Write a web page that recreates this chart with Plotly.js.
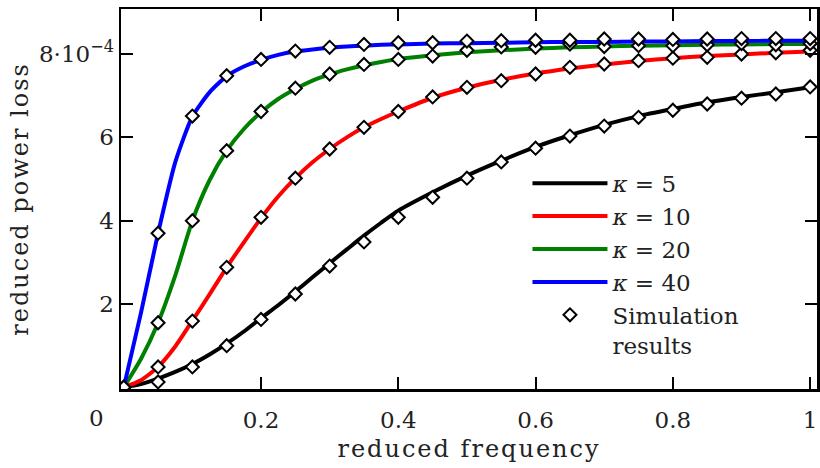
<!DOCTYPE html>
<html>
<head>
<meta charset="utf-8">
<script src="https://cdn.plot.ly/plotly-3.0.1.min.js"></script>
<style>
  html, body { margin: 0; padding: 0; background: #fff; }
  #chart { width: 820px; height: 468px; }
  .xtitle, .ytitle { letter-spacing: 2px; }
</style>
</head>
<body>
<div id="chart"></div>
<script>
// curve sample positions (reduced frequency)
const curveX = [0, 0.025, 0.05, 0.075, 0.1, 0.125, 0.15, 0.175, 0.2, 0.225, 0.25, 0.275, 0.3, 0.325, 0.35, 0.375, 0.4,
                0.45, 0.5, 0.55, 0.6, 0.65, 0.7, 0.75, 0.8, 0.85, 0.9, 0.95, 1.0];
// model curves, reduced power loss in units of 1e-4
const curveK5  = [0, 0.08, 0.21, 0.37, 0.56, 0.79, 1.05, 1.34, 1.66, 1.97, 2.30, 2.64, 2.98, 3.31, 3.64, 3.95, 4.24,
                  4.68, 5.08, 5.44, 5.77, 6.05, 6.30, 6.51, 6.68, 6.84, 6.97, 7.08, 7.20];
const curveK10 = [0, 0.17, 0.49, 0.98, 1.60, 2.23, 2.88, 3.48, 4.06, 4.58, 5.02, 5.40, 5.72, 6.00, 6.24, 6.44, 6.62,
                  6.95, 7.19, 7.38, 7.53, 7.65, 7.75, 7.83, 7.90, 7.95, 7.99, 8.03, 8.06];
const curveK20 = [0, 0.68, 1.55, 2.68, 4.00, 4.97, 5.68, 6.20, 6.60, 6.92, 7.16, 7.36, 7.51, 7.63, 7.73, 7.81, 7.88,
                  7.97, 8.04, 8.09, 8.13, 8.16, 8.18, 8.20, 8.21, 8.22, 8.23, 8.24, 8.24];
const curveK40 = [0, 1.78, 3.70, 5.40, 6.50, 7.08, 7.47, 7.70, 7.86, 7.98, 8.06, 8.11, 8.15, 8.18, 8.20, 8.22, 8.23,
                  8.25, 8.26, 8.27, 8.28, 8.29, 8.29, 8.30, 8.30, 8.31, 8.31, 8.32, 8.32];

// simulation results
const simX   = [0, 0.05, 0.1, 0.15, 0.2, 0.25, 0.3, 0.35, 0.4, 0.45, 0.5, 0.55, 0.6, 0.65, 0.7, 0.75, 0.8, 0.85, 0.9, 0.95, 1.0];
const simK5  = [0, 0.13, 0.49, 1.00, 1.63, 2.24, 2.91, 3.49, 4.08, 4.56, 5.02, 5.41, 5.74, 6.03, 6.27, 6.48, 6.65, 6.80, 6.94, 7.04, 7.21];
const simK10 = [0, 0.49, 1.59, 2.88, 4.08, 5.02, 5.72, 6.24, 6.62, 6.97, 7.20, 7.36, 7.52, 7.68, 7.76, 7.84, 7.90, 7.92, 8.00, 8.03, 8.09];
const simK20 = [0, 1.55, 4.00, 5.68, 6.62, 7.18, 7.52, 7.75, 7.87, 7.95, 8.09, 8.17, 8.16, 8.24, 8.18, 8.20, 8.20, 8.22, 8.25, 8.22, 8.25];
const simK40 = [0, 3.70, 6.51, 7.48, 7.87, 8.07, 8.16, 8.23, 8.27, 8.27, 8.31, 8.32, 8.33, 8.33, 8.36, 8.36, 8.35, 8.36, 8.37, 8.37, 8.37];

const seriesNames  = ['<i>κ</i> = 5', '<i>κ</i> = 10', '<i>κ</i> = 20', '<i>κ</i> = 40'];
const seriesColors = ['#000000', '#ff0000', '#008000', '#0000ff'];
const simName = 'Simulation<br>results';

const xTickVals = [0.2, 0.4, 0.6, 0.8, 1];
const xTickText = ['0.2', '0.4', '0.6', '0.8', '1'];
const yTickVals = [2, 4, 6, 8];
const yTickText = ['2', '4', '6', '8·10<sup>−4</sup>'];

const curves = [curveK5, curveK10, curveK20, curveK40];
const sims = [simK5, simK10, simK20, simK40];

const FONT = 'DejaVu Serif, serif';
const traces = [];
curves.forEach((c, i) => {
  traces.push({
    x: curveX, y: c, type: 'scatter', mode: 'lines',
    name: seriesNames[i],
    line: {color: seriesColors[i], width: 4, shape: 'spline', smoothing: 0.6},
    hoverinfo: 'skip'
  });
});
sims.forEach((s, i) => {
  traces.push({
    x: simX, y: s, type: 'scatter', mode: 'markers',
    name: simName, showlegend: i === 0,
    marker: {symbol: 'diamond', size: 10, color: '#ffffff', line: {color: '#000000', width: 2}},
    hoverinfo: 'skip'
  });
});

const axisCommon = {
  showgrid: false, zeroline: false,
  showline: true, linecolor: '#000', linewidth: 2.5, mirror: 'ticks',
  ticks: 'inside', ticklen: 12, tickwidth: 2, tickcolor: '#000',
  tickfont: {family: FONT, size: 23, color: '#222'}
};

const layout = {
  width: 820, height: 468,
  margin: {l: 121, r: 3, t: 9, b: 79},
  paper_bgcolor: '#fff', plot_bgcolor: '#fff',
  font: {family: FONT, color: '#222'},
  showlegend: true,
  legend: {
    x: 0.584, y: 0.598, xanchor: 'left', yanchor: 'top',
    bgcolor: 'rgba(0,0,0,0)', borderwidth: 0,
    font: {family: FONT, size: 23, color: '#222'},
    itemwidth: 75, valign: 'top', traceorder: 'normal'
  },
  xaxis: Object.assign({}, axisCommon, {
    range: [-0.004, 1.01],
    tickvals: xTickVals, ticktext: xTickText,
    ticklabelstandoff: 9,
    title: {text: 'reduced frequency', font: {family: FONT, size: 24, color: '#222'}, standoff: 8}
  }),
  yaxis: Object.assign({}, axisCommon, {
    range: [-0.04, 9.08],
    tickvals: yTickVals, ticktext: yTickText,
    title: {text: 'reduced power loss', font: {family: FONT, size: 24, color: '#222'}, standoff: 4}
  }),
  annotations: [{
    text: '0', xref: 'paper', yref: 'paper', x: -0.0345, y: -0.076,
    xanchor: 'center', yanchor: 'middle', showarrow: false,
    font: {family: FONT, size: 23, color: '#222'}
  }]
};

Plotly.newPlot('chart', traces, layout, {displayModeBar: false, staticPlot: true});
</script>
</body>
</html>
